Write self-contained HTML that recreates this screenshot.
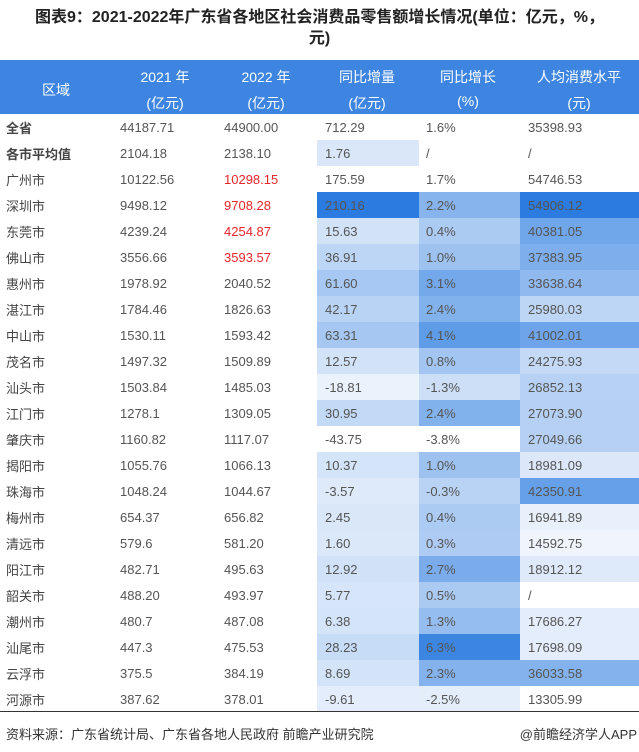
<!DOCTYPE html>
<html><head><meta charset="utf-8"><style>
body{margin:0;width:639px;height:752px;background:#fff;font-family:"Liberation Sans","Noto Sans CJK SC",sans-serif;position:relative;overflow:hidden}
.title{position:absolute;top:7px;left:0;width:639px;text-align:center;font-weight:bold;font-size:16px;line-height:21px;color:#222}
.hdr{position:absolute;top:60px;left:0;width:639px;height:54px;background:#3d85e0;color:#fff;font-size:14px}
.hdr span{position:absolute;transform:translateX(-50%);white-space:nowrap}
table{position:absolute;top:114px;left:0;border-collapse:collapse;font-size:13px;color:#555;table-layout:fixed}
td{height:26px;padding:0;white-space:nowrap}
td.a{width:98px;padding-left:6px;box-sizing:border-box;color:#444}
td.b{width:126px;padding-left:22px;box-sizing:border-box}
td.c{width:93px;padding-left:0;box-sizing:border-box}
td.d{width:102px;padding-left:8px;box-sizing:border-box}
td.e{width:101px;padding-left:7px;box-sizing:border-box}
td.f{width:119px;padding-left:8px;box-sizing:border-box}
.r{color:#e5262a}
.bold{font-weight:bold}
.line{position:absolute;top:711px;left:0;width:639px;height:1px;background:#333}
.src{position:absolute;top:724px;left:6px;font-size:13px;color:#333}
.app{position:absolute;top:724px;right:2px;font-size:13px;color:#333}
</style></head><body>
<div class="title">图表9：2021-2022年广东省各地区社会消费品零售额增长情况(单位：亿元，%，<br>元)</div>
<div class="hdr">
<span style="left:56px;top:20px">区域</span>
<span style="left:165px;top:7px">2021 年</span><span style="left:165px;top:33px">(亿元)</span>
<span style="left:266px;top:7px">2022 年</span><span style="left:266px;top:33px">(亿元)</span>
<span style="left:367px;top:7px">同比增量</span><span style="left:367px;top:33px">(亿元)</span>
<span style="left:468px;top:7px">同比增长</span><span style="left:468px;top:33px">(%)</span>
<span style="left:579px;top:7px">人均消费水平</span><span style="left:579px;top:33px">(元)</span>
</div>
<table>
<tr><td class="a bold">全省</td><td class="b">44187.71</td><td class="c">44900.00</td><td class="d">712.29</td><td class="e">1.6%</td><td class="f">35398.93</td></tr>
<tr><td class="a bold">各市平均值</td><td class="b">2104.18</td><td class="c">2138.10</td><td class="d" style="background:rgb(217,231,249)">1.76</td><td class="e">/</td><td class="f">/</td></tr>
<tr><td class="a">广州市</td><td class="b">10122.56</td><td class="c r">10298.15</td><td class="d">175.59</td><td class="e">1.7%</td><td class="f">54746.53</td></tr>
<tr><td class="a">深圳市</td><td class="b">9498.12</td><td class="c r">9708.28</td><td class="d" style="background:rgb(43,123,224)">210.16</td><td class="e" style="background:rgb(135,180,237)">2.2%</td><td class="f" style="background:rgb(43,123,224)">54906.12</td></tr>
<tr><td class="a">东莞市</td><td class="b">4239.24</td><td class="c r">4254.87</td><td class="d" style="background:rgb(210,227,248)">15.63</td><td class="e" style="background:rgb(172,203,243)">0.4%</td><td class="f" style="background:rgb(112,166,234)">40381.05</td></tr>
<tr><td class="a">佛山市</td><td class="b">3556.66</td><td class="c r">3593.57</td><td class="d" style="background:rgb(190,214,245)">36.91</td><td class="e" style="background:rgb(158,194,240)">1.0%</td><td class="f" style="background:rgb(126,174,236)">37383.95</td></tr>
<tr><td class="a">惠州市</td><td class="b">1978.92</td><td class="c">2040.52</td><td class="d" style="background:rgb(167,200,242)">61.60</td><td class="e" style="background:rgb(115,168,234)">3.1%</td><td class="f" style="background:rgb(144,185,239)">33638.64</td></tr>
<tr><td class="a">湛江市</td><td class="b">1784.46</td><td class="c">1826.63</td><td class="d" style="background:rgb(185,211,245)">42.17</td><td class="e" style="background:rgb(130,178,236)">2.4%</td><td class="f" style="background:rgb(190,214,245)">25980.03</td></tr>
<tr><td class="a">中山市</td><td class="b">1530.11</td><td class="c">1593.42</td><td class="d" style="background:rgb(166,199,242)">63.31</td><td class="e" style="background:rgb(95,156,231)">4.1%</td><td class="f" style="background:rgb(109,164,234)">41002.01</td></tr>
<tr><td class="a">茂名市</td><td class="b">1497.32</td><td class="c">1509.89</td><td class="d" style="background:rgb(210,227,248)">12.57</td><td class="e" style="background:rgb(162,197,241)">0.8%</td><td class="f" style="background:rgb(195,217,246)">24275.93</td></tr>
<tr><td class="a">汕头市</td><td class="b">1503.84</td><td class="c">1485.03</td><td class="d" style="background:rgb(234,242,252)">-18.81</td><td class="e" style="background:rgb(204,223,247)">-1.3%</td><td class="f" style="background:rgb(183,209,244)">26852.13</td></tr>
<tr><td class="a">江门市</td><td class="b">1278.1</td><td class="c">1309.05</td><td class="d" style="background:rgb(195,218,246)">30.95</td><td class="e" style="background:rgb(130,178,236)">2.4%</td><td class="f" style="background:rgb(182,208,244)">27073.90</td></tr>
<tr><td class="a">肇庆市</td><td class="b">1160.82</td><td class="c">1117.07</td><td class="d">-43.75</td><td class="e">-3.8%</td><td class="f" style="background:rgb(182,208,244)">27049.66</td></tr>
<tr><td class="a">揭阳市</td><td class="b">1055.76</td><td class="c">1066.13</td><td class="d" style="background:rgb(212,228,249)">10.37</td><td class="e" style="background:rgb(158,194,240)">1.0%</td><td class="f" style="background:rgb(220,232,250)">18981.09</td></tr>
<tr><td class="a">珠海市</td><td class="b">1048.24</td><td class="c">1044.67</td><td class="d" style="background:rgb(222,234,250)">-3.57</td><td class="e" style="background:rgb(185,211,245)">-0.3%</td><td class="f" style="background:rgb(102,160,233)">42350.91</td></tr>
<tr><td class="a">梅州市</td><td class="b">654.37</td><td class="c">656.82</td><td class="d" style="background:rgb(217,231,249)">2.45</td><td class="e" style="background:rgb(172,203,243)">0.4%</td><td class="f" style="background:rgb(232,240,252)">16941.89</td></tr>
<tr><td class="a">清远市</td><td class="b">579.6</td><td class="c">581.20</td><td class="d" style="background:rgb(218,232,249)">1.60</td><td class="e" style="background:rgb(174,204,243)">0.3%</td><td class="f" style="background:rgb(240,245,253)">14592.75</td></tr>
<tr><td class="a">阳江市</td><td class="b">482.71</td><td class="c">495.63</td><td class="d" style="background:rgb(209,226,248)">12.92</td><td class="e" style="background:rgb(122,172,235)">2.7%</td><td class="f" style="background:rgb(222,234,250)">18912.12</td></tr>
<tr><td class="a">韶关市</td><td class="b">488.20</td><td class="c">493.97</td><td class="d" style="background:rgb(214,229,249)">5.77</td><td class="e" style="background:rgb(170,202,242)">0.5%</td><td class="f">/</td></tr>
<tr><td class="a">潮州市</td><td class="b">480.7</td><td class="c">487.08</td><td class="d" style="background:rgb(213,229,249)">6.38</td><td class="e" style="background:rgb(150,189,239)">1.3%</td><td class="f" style="background:rgb(228,237,251)">17686.27</td></tr>
<tr><td class="a">汕尾市</td><td class="b">447.3</td><td class="c">475.53</td><td class="d" style="background:rgb(198,220,247)">28.23</td><td class="e" style="background:rgb(60,134,226)">6.3%</td><td class="f" style="background:rgb(228,237,251)">17698.09</td></tr>
<tr><td class="a">云浮市</td><td class="b">375.5</td><td class="c">384.19</td><td class="d" style="background:rgb(211,228,249)">8.69</td><td class="e" style="background:rgb(132,178,237)">2.3%</td><td class="f" style="background:rgb(132,178,237)">36033.58</td></tr>
<tr><td class="a">河源市</td><td class="b">387.62</td><td class="c">378.01</td><td class="d" style="background:rgb(227,237,251)">-9.61</td><td class="e" style="background:rgb(228,238,251)">-2.5%</td><td class="f">13305.99</td></tr>
</table>
<div class="line"></div>
<div class="src">资料来源：广东省统计局、广东省各地人民政府 前瞻产业研究院</div>
<div class="app">@前瞻经济学人APP</div>
</body></html>
